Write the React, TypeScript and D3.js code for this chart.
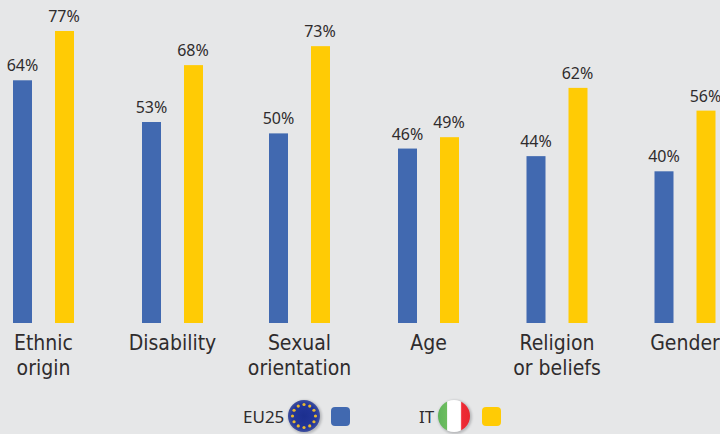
import React from "react";
import * as d3 from "d3";

const categories = ["Ethnic|origin", "Disability", "Sexual|orientation", "Age", "Religion|or beliefs", "Gender"];
const eu25 = [64, 53, 50, 46, 44, 40];
const it = [77, 68, 73, 49, 62, 56];
const BG = "#e6e7e8", BLUE = "#4169b0", YEL = "#ffcb05", INK = "#2f2c2d";
const FONT = "'DejaVu Sans', sans-serif";
const NUM_FONT = "'Noto Sans', sans-serif";

const x = d3.scaleOrdinal<string, number>().domain(categories).range([43.5, 172.5, 299.5, 428.5, 557, 685]);
const y = d3.scaleLinear().domain([0, 77]).range([323, 31]);
const BW = 19, OFF = 21;
const stars = d3.range(12);

export default function App() {
  return (
    <svg width={720} height={434} style={{ position: "fixed", left: 0, top: 0, display: "block", background: BG, fontStretch: "condensed" }} fontFamily={FONT}>
      <defs>
        <filter id="sh" x="-30%" y="-30%" width="160%" height="160%"><feGaussianBlur stdDeviation="1.2" /></filter>
        <radialGradient id="eu" cx="50%" cy="50%" r="50%">
          <stop offset="0%" stopColor="#1c2f8f" /><stop offset="75%" stopColor="#23369a" /><stop offset="100%" stopColor="#3e4f9e" />
        </radialGradient>
        <linearGradient id="itf" x1="0" x2="1" y1="0" y2="0">
          <stop offset="0" stopColor="#5fb45a" /><stop offset="0.27" stopColor="#6dbd5f" /><stop offset="0.3" stopColor="#ffffff" />
          <stop offset="0.7" stopColor="#ffffff" /><stop offset="0.74" stopColor="#ee2a35" /><stop offset="1" stopColor="#e8262f" />
        </linearGradient>
      </defs>
      {categories.map((c, i) => {
        const cx = x(c);
        const lines = c.split("|");
        return (
          <g key={c}>
            <rect x={cx - OFF - BW / 2} y={y(eu25[i])} width={BW} height={y(0) - y(eu25[i])} fill={BLUE} />
            <rect x={cx + OFF - BW / 2} y={y(it[i])} width={BW} height={y(0) - y(it[i])} fill={YEL} />
            <text x={cx - OFF} y={y(eu25[i]) - 9} textAnchor="middle" fontFamily={NUM_FONT} fontSize={16} fill={INK}>{eu25[i]}%</text>
            <text x={cx + OFF - 0.5} y={y(it[i]) - 9} textAnchor="middle" fontFamily={NUM_FONT} fontSize={16} fill={INK}>{it[i]}%</text>
            {lines.map((l, k) => (
              <text key={l} x={cx} y={350 + k * 25} textAnchor="middle" fontSize={21} fill={INK}>{l}</text>
            ))}
          </g>
        );
      })}
      <text x={243} y={423} fontFamily={NUM_FONT} fontSize={17} fill={INK}>EU25</text>
      <circle cx={305} cy={417} r={17} fill="#8a8c90" opacity={0.5} filter="url(#sh)" />
      <circle cx={304} cy={416} r={16} fill="url(#eu)" />
      {stars.map((s) => {
        const a = (s / 12) * 2 * Math.PI;
        return <circle key={s} cx={304 + 11.5 * Math.cos(a)} cy={416 + 11.5 * Math.sin(a)} r={1.6} fill="#e8b830" />;
      })}
      <rect x={331} y={407} width={19} height={19} rx={4} fill={BLUE} />
      <text x={419} y={423} fontFamily={NUM_FONT} fontSize={17} fill={INK}>IT</text>
      <circle cx={455} cy={417} r={17} fill="#8a8c90" opacity={0.5} filter="url(#sh)" />
      <circle cx={454} cy={416} r={16} fill="url(#itf)" />
      <rect x={482} y={407} width={19} height={19} rx={4} fill={YEL} />
    </svg>
  );
}
